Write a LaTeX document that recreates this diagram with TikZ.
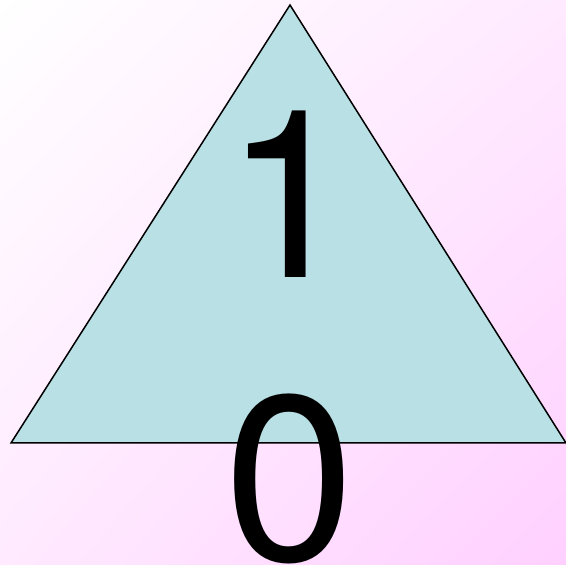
\documentclass[tikz,border=0pt]{standalone}
\usepackage{fontspec}
\newfontfamily\digitfont{TeX Gyre Heros}
\usetikzlibrary{shadings}
\definecolor{trifill}{RGB}{185,224,228}
\definecolor{bgcorner}{RGB}{255,208,255}
\definecolor{bgmid}{RGB}{255,234,255}
\begin{document}
\begin{tikzpicture}[x=1pt,y=1pt,
  digit/.style={anchor=base,inner sep=0pt,font=\digitfont\fontsize{235}{235}\selectfont,text=black}]
\useasboundingbox (0,0) rectangle (566,565);
\shade[upper left=white,upper right=bgmid,lower left=bgmid,lower right=bgcorner] (0,0) rectangle (566,565);
\coordinate (apex) at (290,560);
\coordinate (bl) at (11,122);
\coordinate (br) at (566,122);
\draw[fill=trifill,line width=1.5pt,line join=miter] (apex) -- (bl) -- (br) -- cycle;
\node[digit] (one) at (290,287) {1};
\node[digit] (zero) at (290,4) {0};
\end{tikzpicture}
\end{document}
